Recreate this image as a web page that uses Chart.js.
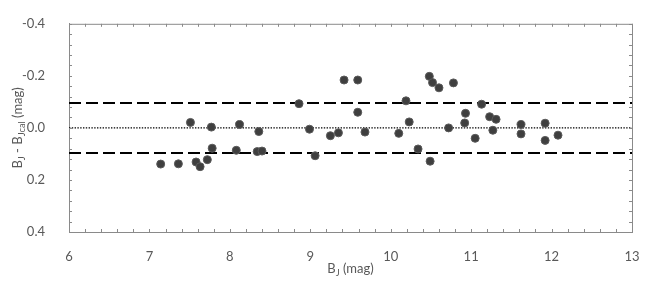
<!DOCTYPE html>
<html>
<head>
<meta charset="utf-8">
<script src="https://cdn.jsdelivr.net/npm/chart.js@4.4.1/dist/chart.umd.min.js"></script>
<style>
    html, body { margin: 0; padding: 0; background: #ffffff; }
</style>
</head>
<body>
<canvas id="chart" width="664" height="287"></canvas>
<script>
// Datos: magnitud B_J y residuo B_J - B_Jcal.
const magBJ = [
    7.14, 7.36, 7.58, 7.63, 7.72, 7.77, 7.78, 7.51, 8.12, 8.08, 8.36,
    8.34, 8.40, 8.86, 8.99, 9.06, 9.25, 9.35, 9.42, 9.59, 9.59, 9.68,
    10.10, 10.19, 10.23, 10.34, 10.48, 10.52, 10.60, 10.49, 10.72, 10.78,
    10.93, 10.92, 11.05, 11.13, 11.23, 11.31, 11.27, 11.62, 11.62, 11.92,
    11.92, 12.08
];
const residual = [
    0.139, 0.138, 0.131, 0.149, 0.122, -0.003, 0.078, -0.021, -0.013, 0.086, 0.014,
    0.091, 0.089, -0.093, 0.005, 0.107, 0.030, 0.019, -0.184, -0.184, -0.060, 0.016,
    0.021, -0.104, -0.023, 0.081, -0.198, -0.174, -0.154, 0.128, 0.000, -0.173,
    -0.056, -0.019, 0.040, -0.091, -0.043, -0.033, 0.009, -0.013, 0.023, -0.018,
    0.048, 0.028
];
// Límites (líneas discontinuas) y línea central (punteada).
const limitValue = [-0.096, 0.096];
const centerValue = 0;
// Rangos y marcas de los ejes.
const xRange = [6, 13];
const yRange = [-0.4, 0.4];
const xMinorStep = 0.2;
const yMinorStep = 0.04;

const AXIS_COLOR = '#8a8a8a';
const TEXT_COLOR = '#595959';
const FONT = 'Lato, "Open Sans", sans-serif';

// Se arma el conjunto de puntos a partir de los arreglos.
const points = magBJ.map((x, i) => ({ x: x, y: residual[i] }));
const hLine = (y) => [{ x: xRange[0], y: y }, { x: xRange[1], y: y }];

// Dibuja texto con un subíndice (B_J, B_Jcal).
const drawParts = (ctx, parts, x, y, size) => {
    parts.forEach((p) => {
        const fs = p.sub ? size * 0.72 : size;
        ctx.font = fs + 'px ' + FONT;
        ctx.fillText(p.t, x, y + (p.sub ? size * 0.28 : 0));
        x += ctx.measureText(p.t).width;
    });
};
const partsWidth = (ctx, parts, size) => {
    let w = 0;
    parts.forEach((p) => {
        ctx.font = (p.sub ? size * 0.72 : size) + 'px ' + FONT;
        w += ctx.measureText(p.t).width;
    });
    return w;
};

// Plugin: marco completo, marcas menores hacia dentro y títulos de ejes.
const framePlugin = {
    id: 'frame',
    afterDraw(chart) {
        const ctx = chart.ctx;
        const a = chart.chartArea;
        const sx = chart.scales.x;
        const sy = chart.scales.y;
        ctx.save();
        ctx.strokeStyle = AXIS_COLOR;
        ctx.lineWidth = 1;
        ctx.beginPath();
        ctx.moveTo(a.right + 0.5, a.top);
        ctx.lineTo(a.right + 0.5, a.bottom);
        ctx.moveTo(a.left, a.top + 0.5);
        ctx.lineTo(a.right, a.top + 0.5);
        const len = 3;
        for (let v = xRange[0]; v <= xRange[1] + 1e-9; v += xMinorStep) {
            const px = Math.round(sx.getPixelForValue(v)) + 0.5;
            ctx.moveTo(px, a.bottom);
            ctx.lineTo(px, a.bottom - len);
            ctx.moveTo(px, a.top);
            ctx.lineTo(px, a.top + len);
        }
        for (let v = yRange[0]; v <= yRange[1] + 1e-9; v += yMinorStep) {
            const py = Math.round(sy.getPixelForValue(v)) + 0.5;
            ctx.moveTo(a.left, py);
            ctx.lineTo(a.left + len, py);
            ctx.moveTo(a.right, py);
            ctx.lineTo(a.right - len, py);
        }
        ctx.stroke();

        // Títulos de los ejes.
        ctx.fillStyle = TEXT_COLOR;
        ctx.textBaseline = 'middle';
        ctx.textAlign = 'left';
        const size = 13;
        const xTitle = [{ t: 'B' }, { t: 'J', sub: true }, { t: ' (mag)' }];
        const wx = partsWidth(ctx, xTitle, size);
        drawParts(ctx, xTitle, (a.left + a.right) / 2 - wx / 2, 269, size);

        const yTitle = [{ t: 'B' }, { t: 'J', sub: true }, { t: ' - B' }, { t: 'Jcal', sub: true }, { t: ' (mag)' }];
        const wy = partsWidth(ctx, yTitle, size);
        ctx.translate(18, (a.top + a.bottom) / 2);
        ctx.rotate(-Math.PI / 2);
        drawParts(ctx, yTitle, -wy / 2, 0, size);
        ctx.restore();
    }
};

new Chart(document.getElementById('chart'), {
    type: 'scatter',
    data: {
        datasets: [{
            data: points,
            order: 0,
            pointRadius: 4,
            pointBackgroundColor: '#3f3f3f',
            pointBorderColor: '#5a5a5a',
            pointBorderWidth: 1
        }, {
            type: 'line',
            data: hLine(limitValue[0]),
            order: 1,
            borderColor: '#000000',
            borderWidth: 2,
            borderDash: [12, 5],
            pointRadius: 0
        }, {
            type: 'line',
            data: hLine(limitValue[1]),
            order: 1,
            borderColor: '#000000',
            borderWidth: 2,
            borderDash: [12, 5],
            pointRadius: 0
        }, {
            type: 'line',
            data: hLine(centerValue),
            order: 1,
            borderColor: '#000000',
            borderWidth: 1.4,
            borderDash: [1.4, 1.4],
            pointRadius: 0
        }]
    },
    options: {
        responsive: false,
        animation: false,
        layout: { padding: { top: 22, right: 32, left: 0, bottom: 0 } },
        plugins: {
            legend: { display: false },
            tooltip: { enabled: false }
        },
        scales: {
            x: {
                type: 'linear',
                min: xRange[0],
                max: xRange[1],
                grid: { display: false },
                border: { display: true, color: AXIS_COLOR, width: 1 },
                ticks: {
                    stepSize: 1,
                    color: TEXT_COLOR,
                    font: { family: FONT, size: 13 },
                    padding: 9
                },
                afterFit: (axis) => { axis.height = 55; }
            },
            y: {
                type: 'linear',
                reverse: true,
                min: yRange[0],
                max: yRange[1],
                grid: { display: false },
                border: { display: true, color: AXIS_COLOR, width: 1 },
                ticks: {
                    stepSize: 0.2,
                    color: TEXT_COLOR,
                    font: { family: FONT, size: 13 },
                    padding: 16,
                    callback: (v) => Number(v).toFixed(1)
                },
                afterFit: (axis) => { axis.width = 69; }
            }
        }
    },
    plugins: [framePlugin]
});
</script>
</body>
</html>
